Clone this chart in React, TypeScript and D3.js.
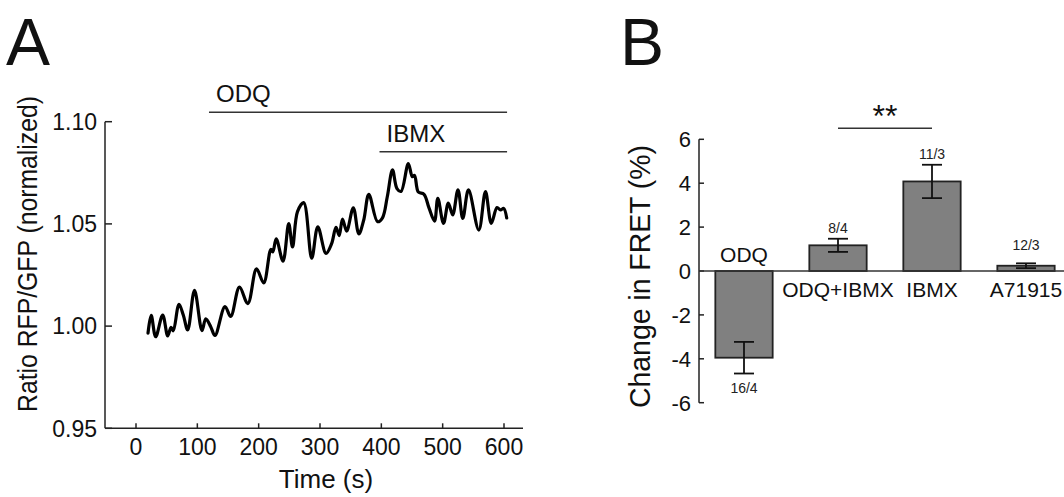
import React from "react";
import * as d3 from "d3";

// ---------- Panel A data ----------
const times = [19.6, 24.8, 32.1, 43.5, 51.7, 57.1, 60.8, 70.1, 77.1, 84.3, 95.4, 107.6, 113.8, 122, 128.8, 145.1, 154.4, 168.7, 182.3, 196.5, 208.2, 219.8, 223.1, 228.6, 239.7, 249, 255.2, 263.3, 273.4, 286.5, 296.4, 309.8, 318.8, 326.1, 331.3, 336.7, 343.5, 354.3, 363.3, 371.3, 379.6, 393.8, 401.9, 409.7, 418.2, 425.5, 432.1, 444, 450.5, 454.1, 460.3, 469.6, 477.7, 486.7, 492.1, 501.4, 509.2, 516.3, 525, 532.8, 542.1, 558.9, 569.8, 579.3, 588.6, 594.3, 599.5, 604.4];
const ratios = [0.9966, 1.0052, 0.9948, 1.0054, 0.9952, 0.9994, 0.9977, 1.0107, 1.0054, 0.9981, 1.0175, 0.9978, 1.0036, 0.9996, 0.9954, 1.0096, 1.0047, 1.0191, 1.011, 1.028, 1.0211, 1.0375, 1.0363, 1.0427, 1.0318, 1.0501, 1.0387, 1.056, 1.0604, 1.0332, 1.0486, 1.0356, 1.0402, 1.0483, 1.0443, 1.0524, 1.0465, 1.0579, 1.0451, 1.0519, 1.0644, 1.0511, 1.053, 1.0633, 1.0764, 1.0673, 1.0659, 1.0795, 1.0731, 1.0737, 1.0656, 1.0645, 1.0578, 1.0514, 1.0625, 1.0503, 1.0602, 1.0544, 1.0667, 1.0527, 1.0666, 1.047, 1.0658, 1.0503, 1.058, 1.0568, 1.0576, 1.0529];
const xTicksA = [0, 100, 200, 300, 400, 500, 600];
const yTicksA = [0.95, 1.0, 1.05, 1.1];
const treatLabels = ["ODQ", "IBMX"];
const treatStart = [119, 397];
const treatEnd = [605, 605];
const treatLevel = [1.1046, 1.0853];

// ---------- Panel B data ----------
const categories = ["ODQ", "ODQ+IBMX", "IBMX", "A71915"];
const means = [-3.95, 1.17, 4.08, 0.24];
const errors = [0.72, 0.3, 0.76, 0.11];
const nLabels = ["16/4", "8/4", "11/3", "12/3"];
const yTicksB = [-6, -4, -2, 0, 2, 4, 6];
const sigPair = ["ODQ+IBMX", "IBMX"];
const sigLevel = 6.5;

const FONT = "'Liberation Sans', Arial, Helvetica, sans-serif";

export default function App() {
  // Panel A scales
  const xA = d3.scaleLinear().domain([0, 600]).range([136, 504]);
  const yA = d3.scaleLinear().domain([0.95, 1.1]).range([428.3, 121.7]);
  const axisLeftA = 105;
  const axisRightA = 523;
  const pts = times.map((t, i) => [t, ratios[i]] as [number, number]);
  const line = d3
    .line<[number, number]>()
    .x((d) => xA(d[0]))
    .y((d) => yA(d[1]))
    .curve(d3.curveCatmullRom.alpha(0.5));

  // Panel B scales
  const xB = d3
    .scaleBand<string>()
    .domain(categories)
    .range([697, 1073])
    .paddingInner(0.39)
    .paddingOuter(0.195);
  const yB = d3.scaleLinear().domain([-6, 6]).range([402.7, 139.3]);
  const axisB = 699;
  const bw = xB.bandwidth();
  const cx = (c: string) => (xB(c) as number) + bw / 2;

  return (
    <svg
      width={1064}
      height={497}
      style={{ position: "absolute", left: 0, top: 0, background: "#fff" }}
      fontFamily={FONT}
    >
      <rect x={0} y={0} width={1064} height={497} fill="#fff" />
      {/* ===== Panel A ===== */}
      <text x={6} y={65} fontSize={66} fill="#111">A</text>
      {/* axes */}
      <line x1={axisLeftA} x2={axisLeftA} y1={yA(1.1)} y2={yA(0.95)} stroke="#222" strokeWidth={1.5} />
      <line x1={axisLeftA} x2={axisRightA} y1={yA(0.95)} y2={yA(0.95)} stroke="#222" strokeWidth={1.5} />
      {yTicksA.map((v) => (
        <g key={"ya" + v}>
          <line x1={axisLeftA} x2={axisLeftA + 7} y1={yA(v)} y2={yA(v)} stroke="#222" strokeWidth={1.5} />
          <text x={axisLeftA - 8} y={yA(v)} dy="0.36em" textAnchor="end" fontSize={23} fill="#111">
            {v.toFixed(2)}
          </text>
        </g>
      ))}
      {xTicksA.map((t) => (
        <g key={"xa" + t}>
          <line x1={xA(t)} x2={xA(t)} y1={yA(0.95)} y2={yA(0.95) - 5} stroke="#222" strokeWidth={1.5} />
          <text x={xA(t)} y={455} textAnchor="middle" fontSize={23} fill="#111">
            {t}
          </text>
        </g>
      ))}
      <text x={326} y={488} textAnchor="middle" fontSize={26} fill="#111">Time (s)</text>
      <text
        transform={`translate(37,254) rotate(-90)`}
        textAnchor="middle"
        fontSize={27}
        textLength={316}
        lengthAdjust="spacingAndGlyphs"
        fill="#111"
      >
        Ratio RFP/GFP (normalized)
      </text>
      {/* treatment bars */}
      {treatLabels.map((lab, i) => (
        <g key={"tr" + lab}>
          <line x1={xA(treatStart[i])} x2={xA(treatEnd[i])} y1={yA(treatLevel[i])} y2={yA(treatLevel[i])} stroke="#333" strokeWidth={1.5} />
          <text x={xA(treatStart[i]) + 7} y={yA(treatLevel[i]) - 10} fontSize={24} fill="#111">
            {lab}
          </text>
        </g>
      ))}
      <path d={line(pts) || ""} fill="none" stroke="#000" strokeWidth={3.2} strokeLinejoin="round" strokeLinecap="round" />

      {/* ===== Panel B ===== */}
      <text x={620} y={65} fontSize={66} fill="#111">B</text>
      <line x1={axisB} x2={axisB} y1={yB(6)} y2={yB(-6)} stroke="#222" strokeWidth={1.5} />
      {yTicksB.map((v) => (
        <g key={"yb" + v}>
          <line x1={axisB} x2={axisB + 5} y1={yB(v)} y2={yB(v)} stroke="#222" strokeWidth={1.5} />
          <text x={axisB - 8} y={yB(v)} dy="0.36em" textAnchor="end" fontSize={22} fill="#111">
            {v < 0 ? "-" + Math.abs(v) : String(v)}
          </text>
        </g>
      ))}
      <text
        transform={`translate(650,276.5) rotate(-90)`}
        textAnchor="middle"
        fontSize={29}
        textLength={263}
        lengthAdjust="spacingAndGlyphs"
        fill="#111"
      >
        Change in FRET (%)
      </text>
      {categories.map((c, i) => {
        const m = means[i];
        const e = errors[i];
        const x0 = xB(c) as number;
        const top = Math.min(yB(m), yB(0));
        const h = Math.abs(yB(m) - yB(0));
        const errTop = yB(m + e);
        const errBot = yB(m - e);
        const c0 = cx(c);
        const nY = m >= 0 ? Math.min(errTop - 6, yB(0) - 21) : errBot + 19;
        return (
          <g key={"bar" + c}>
            <rect x={x0} y={top} width={bw} height={h} fill="#808080" stroke="#222" strokeWidth={1.8} />
            <line x1={c0} x2={c0} y1={errTop} y2={errBot} stroke="#111" strokeWidth={1.8} />
            <line x1={c0 - 10} x2={c0 + 10} y1={errTop} y2={errTop} stroke="#111" strokeWidth={1.8} />
            <line x1={c0 - 10} x2={c0 + 10} y1={errBot} y2={errBot} stroke="#111" strokeWidth={1.8} />
            <text x={c0} y={nY} textAnchor="middle" fontSize={14} fill="#222">
              {nLabels[i]}
            </text>
            <text
              x={c0}
              y={m >= 0 ? yB(0) + 26 : yB(0) - 9.5}
              textAnchor="middle"
              fontSize={21}
              fill="#111"
            >
              {c}
            </text>
          </g>
        );
      })}
      <line x1={axisB} x2={1064} y1={yB(0)} y2={yB(0)} stroke="#333" strokeWidth={1.5} />
      {/* significance */}
      <line x1={cx(sigPair[0])} x2={cx(sigPair[1])} y1={yB(sigLevel)} y2={yB(sigLevel)} stroke="#333" strokeWidth={1.5} />
      <text x={(cx(sigPair[0]) + cx(sigPair[1])) / 2} y={yB(sigLevel) - 1} textAnchor="middle" fontSize={32} fill="#111">
        **
      </text>
    </svg>
  );
}
